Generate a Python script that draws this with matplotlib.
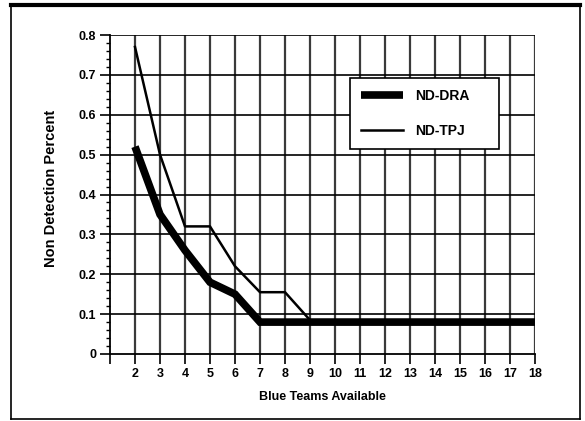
import matplotlib
matplotlib.use("Agg")
import matplotlib.pyplot as plt
from matplotlib.lines import Line2D
from matplotlib.ticker import MultipleLocator

plt.rcParams['font.family'] = ['Liberation Sans', 'DejaVu Sans']

blue_teams = [2, 3, 4, 5, 6, 7, 8, 9, 10, 11, 12, 13, 14, 15, 16, 17, 18]
nd_dra = [0.52, 0.35, 0.26, 0.18, 0.15, 0.08, 0.08, 0.08, 0.08, 0.08, 0.08,
          0.08, 0.08, 0.08, 0.08, 0.08, 0.08]
nd_tpj = [0.77, 0.50, 0.32, 0.32, 0.22, 0.155, 0.155, 0.085, 0.085, 0.085,
          0.085, 0.085, 0.085, 0.085, 0.085, 0.085, 0.085]
x_ticks = list(range(1, 19))
x_tick_labels = [''] + [str(v) for v in range(2, 19)]
y_ticks = [0, 0.1, 0.2, 0.3, 0.4, 0.5, 0.6, 0.7, 0.8]
y_tick_labels = ['0', '0.1', '0.2', '0.3', '0.4', '0.5', '0.6', '0.7', '0.8']

W, H = 585, 421
fig = plt.figure(figsize=(W / 100, H / 100), dpi=100)
ax_l, ax_r, ax_t, ax_b = 110, 535, 35, 354
ax = fig.add_axes([ax_l / W, 1 - ax_b / H, (ax_r - ax_l) / W, (ax_b - ax_t) / H])

ax.set_xlim(1, 18)
ax.set_ylim(0, 0.8)
ax.set_xticks(x_ticks)
ax.set_xticklabels(x_tick_labels)
ax.set_yticks(y_ticks)
ax.set_yticklabels(y_tick_labels)
ax.yaxis.set_minor_locator(MultipleLocator(0.02))

for v in x_ticks[1:]:
    ax.axvline(v, color='#3a3a3a', lw=1.6, zorder=1)
for v in y_ticks[1:]:
    ax.axhline(v, color='black', lw=1.2, zorder=1)

for s in ['top', 'right']:
    ax.spines[s].set_visible(False)
for s in ['left', 'bottom']:
    ax.spines[s].set_linewidth(1.3)

ax.tick_params(axis='both', which='major', length=7, width=1.2, direction='out',
               labelsize=9, pad=3)
ax.tick_params(axis='y', which='minor', length=3, width=1.0, direction='out')
for lab in ax.get_xticklabels() + ax.get_yticklabels():
    lab.set_fontweight('bold')

l1, = ax.plot(blue_teams, nd_dra, color='black', lw=5.5, solid_capstyle='butt',
              solid_joinstyle='miter', zorder=3, label='ND-DRA')
l2, = ax.plot(blue_teams, nd_tpj, color='black', lw=1.8, zorder=3, label='ND-TPJ')

# legend box in pixel coordinates: x 350..499, y 78..146
bx0 = (350 - ax_l) / (ax_r - ax_l)
bx1 = (499 - ax_l) / (ax_r - ax_l)
by0 = (ax_b - 146) / (ax_b - ax_t)
by1 = (ax_b - 78) / (ax_b - ax_t)
leg = ax.legend(handles=[l1, l2], loc='upper left',
                bbox_to_anchor=(bx0, by0, bx1 - bx0, by1 - by0), mode='expand',
                frameon=True, fancybox=False, edgecolor='black', framealpha=1,
                fontsize=10, handlelength=3.0, handletextpad=0.9,
                labelspacing=1.5, borderpad=0.8, borderaxespad=0)
leg.get_frame().set_linewidth(1.2)
for t in leg.get_texts():
    t.set_fontweight('bold')

ax.set_xlabel('Blue Teams Available', fontsize=9, fontweight='bold', labelpad=8)
ax.set_ylabel('Non Detection Percent', fontsize=10.5, fontweight='bold')
ax.yaxis.set_label_coords((58 - ax_l) / (ax_r - ax_l), (ax_b - 188) / (ax_b - ax_t))

# outer frame
fig.add_artist(Line2D([11 / W, 580 / W], [1 - 5 / H, 1 - 5 / H], color='black',
                      lw=3, transform=fig.transFigure))
fig.add_artist(Line2D([11 / W, 11 / W], [1 - 5 / H, 1 - 419 / H], color='black',
                      lw=1.2, transform=fig.transFigure))
fig.add_artist(Line2D([11 / W, 580 / W], [1 - 419 / H, 1 - 419 / H], color='black',
                      lw=1.2, transform=fig.transFigure))
fig.add_artist(Line2D([580 / W, 580 / W], [1 - 5 / H, 1 - 419 / H], color='black',
                      lw=1.2, transform=fig.transFigure))

fig.savefig('out.png', dpi=100)
